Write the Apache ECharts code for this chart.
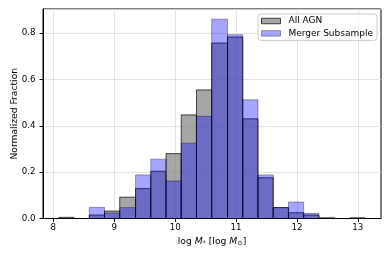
<!DOCTYPE html>
<html><head><meta charset="utf-8">
<script src="https://cdn.jsdelivr.net/npm/echarts@6/dist/echarts.min.js"></script>
<style>html,body{margin:0;padding:0;background:#fff}#c{width:390px;height:260px}</style>
</head><body><div id="c"></div>
<script>
const binEdges = [8.09, 8.34, 8.59, 8.84, 9.09, 9.35, 9.60, 9.85, 10.10, 10.35, 10.60, 10.86, 11.11, 11.36, 11.61, 11.86, 12.11, 12.36, 12.62, 12.87, 13.12];
const allAGN = [0.005, 0, 0.015, 0.032, 0.092, 0.129, 0.204, 0.280, 0.447, 0.555, 0.757, 0.783, 0.430, 0.176, 0.047, 0.025, 0.015, 0.003, 0, 0.003];
const merger = [0, 0, 0.048, 0.024, 0.047, 0.188, 0.256, 0.162, 0.325, 0.441, 0.860, 0.793, 0.512, 0.188, 0.047, 0.071, 0.022, 0, 0, 0];
const xTicks = [8, 9, 10, 11, 12, 13];
const yTicks = [0.0, 0.2, 0.4, 0.6, 0.8];

const FONT = 'DejaVu Sans';
function toData(vals) { return vals.map((v, i) => [binEdges[i], binEdges[i + 1], v]); }
function makeRender(fill, stroke) {
  return function (params, api) {
    const h = api.value(2);
    if (!h) return null;
    const p0 = api.coord([api.value(0), h]);
    const p1 = api.coord([api.value(1), 0]);
    return { type: 'rect', shape: { x: p0[0], y: p0[1], width: p1[0] - p0[0], height: p1[1] - p0[1] },
      style: { fill: fill, stroke: stroke, lineWidth: 1 } };
  };
}
const grayFill = 'rgba(128,128,128,0.7)', grayStroke = 'rgba(0,0,0,0.7)';
const blueFill = 'rgba(0,0,255,0.35)', blueStroke = 'rgba(0,0,0,0.35)';

const chart = echarts.init(document.getElementById('c'), null, { renderer: 'canvas' });
chart.setOption({
  animation: false,
  textStyle: { fontFamily: FONT },
  grid: { left: 43, right: 9, top: 9, bottom: 41.5, show: true, borderColor: '#000', borderWidth: 1, backgroundColor: 'transparent',
          containLabel: false, outerBoundsMode: 'none' },
  legend: {
    orient: 'vertical', left: 258, top: 14, padding: [2, 4, 2, 3], itemGap: 2.4,
    backgroundColor: 'rgba(255,255,255,0.8)', borderColor: '#cccccc', borderWidth: 1, borderRadius: 3,
    itemWidth: 19, itemHeight: 5.5, icon: 'rect',
    textStyle: { fontFamily: FONT, fontSize: 9, color: '#000', lineHeight: 10, padding: [0, 0, 0, 3] },
    data: [
      { name: 'All AGN', itemStyle: { color: grayFill, borderColor: grayStroke, borderWidth: 1 } },
      { name: 'Merger Subsample', itemStyle: { color: blueFill, borderColor: blueStroke, borderWidth: 1 } }
    ]
  },
  xAxis: {
    type: 'value', min: 7.83, max: 13.38,
    splitNumber: 5,
    axisLine: { show: true, lineStyle: { color: '#000', width: 1 } },
    axisTick: { show: true, length: 3.5, lineStyle: { color: '#000' }, customValues: xTicks },
    axisLabel: { color: '#000', fontSize: 8.7, fontFamily: FONT, margin: 5, customValues: xTicks, formatter: v => String(Math.round(v)) },
    splitLine: { show: true, lineStyle: { color: '#dcdcdc', width: 0.8 } },
    name: '{n|log }{i|M}{s|*}{n| [log }{i|M}{s|⊙}{n|]}',
    nameLocation: 'middle', nameGap: 17.5, nameMoveOverlap: false,
    nameTextStyle: { color: '#000', fontFamily: FONT, fontSize: 9.2,
      rich: { n: { fontSize: 9.2, fontFamily: FONT, color: '#000' }, i: { fontSize: 9.2, fontFamily: FONT, fontStyle: 'italic', color: '#000' },
              s: { fontSize: 6.5, fontFamily: FONT, color: '#000', verticalAlign: 'bottom', padding: [4, 0, 0, 0] } } }
  },
  yAxis: {
    type: 'value', min: 0, max: 0.904, interval: 0.2,
    axisLine: { show: true, lineStyle: { color: '#000', width: 1 } },
    axisTick: { show: true, length: 3.5, lineStyle: { color: '#000' } },
    axisLabel: { color: '#000', fontSize: 8.7, fontFamily: FONT, margin: 7.5, showMaxLabel: false, formatter: v => v.toFixed(1) },
    splitLine: { show: true, lineStyle: { color: '#dcdcdc', width: 0.8 } },
    name: 'Normalized Fraction', nameLocation: 'middle', nameRotate: 90, nameGap: 24, nameMoveOverlap: false,
    nameTextStyle: { color: '#000', fontFamily: FONT, fontSize: 9.2 }
  },
  series: [
    { name: 'All AGN', type: 'custom', renderItem: makeRender(grayFill, grayStroke), itemStyle: { color: grayFill },
      encode: { x: [0, 1], y: 2 }, data: toData(allAGN), z: 2 },
    { name: 'Merger Subsample', type: 'custom', renderItem: makeRender(blueFill, blueStroke), itemStyle: { color: blueFill },
      encode: { x: [0, 1], y: 2 }, data: toData(merger), z: 3 }
  ]
});
</script></body></html>
